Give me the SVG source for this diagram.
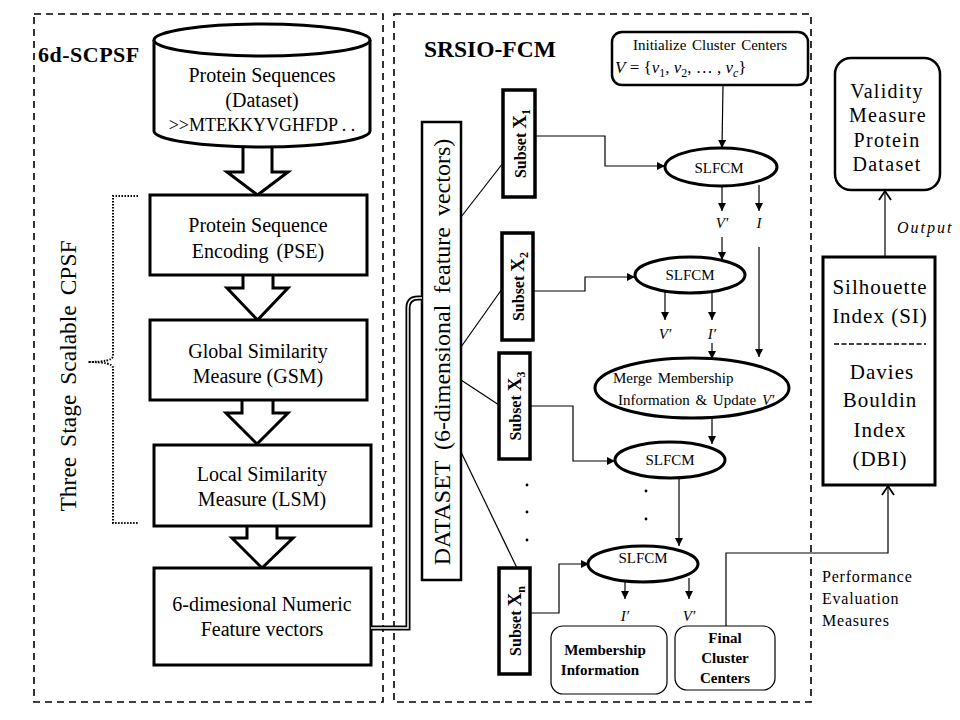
<svg xmlns="http://www.w3.org/2000/svg" width="960" height="720" viewBox="0 0 960 720" font-family="'Liberation Serif', 'Times New Roman', serif">
<defs>
<style>
text{font-family:'Liberation Serif','Times New Roman',serif;fill:#000}
.t20{font-size:20px;text-anchor:middle}
.t18{font-size:18px;text-anchor:middle}
.b{font-weight:bold}
.it{font-style:italic}
.box{fill:#fff;stroke:#000;stroke-width:3}
.thin{fill:#fff;stroke:#000;stroke-width:1.2}
.ell{fill:#fff;stroke:#000;stroke-width:3}
.dash{fill:none;stroke:#000;stroke-width:1.6;stroke-dasharray:7 5}
.ln{fill:none;stroke:#000;stroke-width:1.2}
.arr{marker-end:url(#ah)}
.oarr{marker-end:url(#oh)}
.bigarr{fill:#fff;stroke:#000;stroke-width:3;stroke-linejoin:miter}
</style>
<marker id="ah" markerUnits="userSpaceOnUse" markerWidth="9" markerHeight="9" refX="8" refY="4" orient="auto">
<path d="M0,0 L8,4 L0,8 z" fill="#000"/>
</marker>
<marker id="oh" markerUnits="userSpaceOnUse" markerWidth="12" markerHeight="14" refX="10" refY="7" orient="auto">
<path d="M1,1 L10,7 L1,13" fill="none" stroke="#000" stroke-width="1.8"/>
</marker>
</defs>
<rect width="960" height="720" fill="#fff"/>

<g id="frames">
<rect class="dash" x="34" y="14" width="349" height="688"/>
<rect class="dash" x="394" y="14" width="417" height="688"/>
<text x="38" y="62" class="b" font-size="22" letter-spacing="0.5">6d-SCPSF</text>
<text x="424" y="57" class="b" font-size="23.5">SRSIO-FCM</text>
</g>

<g id="block-arrows">
<path class="bigarr" d="M243,140 V172 H227 L257.5,195 L288,172 H272 V140"/>
<path class="bigarr" d="M243,275 V288 H227 L257.5,320 L288,288 H273 V275"/>
<path class="bigarr" d="M242,400 V413 H226 L257,444 L288,413 H273 V400"/>
<path class="bigarr" d="M247,526 V538 H232 L262,568 L293,538 H277 V526"/>
</g>

<g id="n-dataset-cyl">
<path d="M154,40 V131 A108,16 0 0 0 370,131 V40" fill="#fff" stroke="#000" stroke-width="3"/>
<ellipse cx="262" cy="40" rx="108" ry="16" fill="#fff" stroke="#000" stroke-width="3"/>
<text class="t20" x="262" y="82">Protein Sequences</text>
<text class="t20" x="262" y="107">(Dataset)</text>
<text class="t18" x="262" y="131">&gt;&gt;MTEKKYVGHFDP . .</text>
</g>

<g id="n-pse">
<rect class="box" x="150" y="195" width="217" height="80"/>
<text class="t20" x="258" y="232">Protein Sequence</text>
<text class="t20" x="258" y="258" word-spacing="3">Encoding (PSE)</text>
</g>
<g id="n-gsm">
<rect class="box" x="150" y="320" width="217" height="80"/>
<text class="t20" x="258" y="358">Global Similarity</text>
<text class="t20" x="258" y="383">Measure (GSM)</text>
</g>
<g id="n-lsm">
<rect class="box" x="154" y="445" width="217" height="81"/>
<text class="t20" x="262" y="481">Local Similarity</text>
<text class="t20" x="262" y="506">Measure (LSM)</text>
</g>
<g id="n-feat">
<rect class="box" x="154" y="568" width="217" height="97"/>
<text class="t20" x="262" y="611">6-dimesional Numeric</text>
<text class="t20" x="262" y="636">Feature vectors</text>
</g>

<g id="n-brace">
<path d="M138,196 H113 V356 Q113,362 88,362 Q113,362 113,368 V523 H138" fill="none" stroke="#000" stroke-width="2" stroke-dasharray="1.5 1.5"/>
<text transform="translate(68,376) rotate(-90)" text-anchor="middle" dy="0.35em" font-size="23.5" word-spacing="4">Three Stage Scalable CPSF</text>
</g>

<g id="n-datasetbar">
<rect x="422" y="122" width="39" height="458" fill="#fff" stroke="#000" stroke-width="2.5"/>
<text transform="translate(442,352) rotate(-90)" text-anchor="middle" dy="0.35em" font-size="24" word-spacing="5">DATASET (6-dimensional feature vectors)</text>
</g>

<g id="n-subsets">
<rect x="503" y="90" width="32" height="107" fill="#fff" stroke="#000" stroke-width="3.5"/>
<text transform="translate(520,143.5) rotate(-90)" text-anchor="middle" dy="0.35em" class="b" font-size="16">Subset <tspan font-size="19">X</tspan><tspan font-size="12" dy="4">1</tspan></text>
<rect x="502" y="233" width="31" height="107" fill="#fff" stroke="#000" stroke-width="3.5"/>
<text transform="translate(518,286.5) rotate(-90)" text-anchor="middle" dy="0.35em" class="b" font-size="16">Subset <tspan font-size="19">X</tspan><tspan font-size="12" dy="4">2</tspan></text>
<rect x="499" y="353" width="31" height="106" fill="#fff" stroke="#000" stroke-width="3.5"/>
<text transform="translate(515,406) rotate(-90)" text-anchor="middle" dy="0.35em" class="b" font-size="16">Subset <tspan font-size="19">X</tspan><tspan font-size="12" dy="4">3</tspan></text>
<rect x="499" y="568" width="31" height="106" fill="#fff" stroke="#000" stroke-width="3.5"/>
<text transform="translate(515,621) rotate(-90)" text-anchor="middle" dy="0.35em" class="b" font-size="16">Subset <tspan font-size="19">X</tspan><tspan font-size="12" dy="4">n</tspan></text>
<circle cx="527" cy="485" r="1.4"/>
<circle cx="527" cy="512" r="1.4"/>
<circle cx="527" cy="540" r="1.4"/>
</g>

<g id="n-init">
<rect x="612" y="32" width="196" height="53" rx="10" fill="#fff" stroke="#000" stroke-width="2.5"/>
<text x="710" y="50" text-anchor="middle" font-size="15" word-spacing="2">Initialize Cluster Centers</text>
<text x="615" y="73" font-size="17"><tspan class="it">V</tspan> = {<tspan class="it">v</tspan><tspan font-size="12" dy="4">1</tspan><tspan dy="-4">, </tspan><tspan class="it">v</tspan><tspan font-size="12" dy="4">2</tspan><tspan dy="-4">, … , </tspan><tspan class="it">v</tspan><tspan font-size="12" dy="4" class="it">c</tspan><tspan dy="-4">}</tspan></text>
</g>

<g id="n-slfcm1">
<ellipse class="ell" cx="721" cy="167" rx="56" ry="19"/>
<text x="719" y="173" text-anchor="middle" font-size="15">SLFCM</text>
</g>
<g id="n-slfcm2">
<ellipse class="ell" cx="690" cy="275" rx="55" ry="18"/>
<text x="690" y="280" text-anchor="middle" font-size="15">SLFCM</text>
</g>
<g id="n-merge">
<ellipse class="ell" cx="692" cy="388" rx="97" ry="30"/>
<text x="613" y="383" font-size="15" word-spacing="2">Merge Membership</text>
<text x="618" y="405" font-size="15" word-spacing="2">Information &amp; Update <tspan class="it">V′</tspan></text>
</g>
<g id="n-slfcm3">
<ellipse class="ell" cx="670" cy="460" rx="55" ry="18"/>
<text x="670" y="465" text-anchor="middle" font-size="15">SLFCM</text>
</g>
<g id="n-slfcm4">
<ellipse class="ell" cx="643" cy="564" rx="55" ry="18"/>
<text x="643" y="563" text-anchor="middle" font-size="15">SLFCM</text>
<circle cx="646" cy="491" r="1.4"/>
<circle cx="646" cy="519" r="1.4"/>
</g>

<g id="n-membership">
<rect class="thin" x="551" y="626" width="116" height="68" rx="12"/>
<text x="605" y="655" text-anchor="middle" class="b" font-size="15">Membership</text>
<text x="600" y="675" text-anchor="middle" class="b" font-size="15">Information</text>
</g>
<g id="n-final">
<rect class="thin" x="675" y="626" width="100" height="64" rx="12"/>
<text x="725" y="643" text-anchor="middle" class="b" font-size="15">Final</text>
<text x="725" y="663" text-anchor="middle" class="b" font-size="15">Cluster</text>
<text x="725" y="683" text-anchor="middle" class="b" font-size="15">Centers</text>
</g>

<g id="n-validity">
<rect x="835" y="58" width="105" height="132" rx="16" fill="#fff" stroke="#000" stroke-width="2.5"/>
<text x="887" y="98" text-anchor="middle" font-size="20" letter-spacing="1.3">Validity</text>
<text x="888" y="122" text-anchor="middle" font-size="20" letter-spacing="1.3">Measure</text>
<text x="887" y="147" text-anchor="middle" font-size="20" letter-spacing="1.3">Protein</text>
<text x="887" y="171" text-anchor="middle" font-size="20" letter-spacing="1.3">Dataset</text>
</g>
<g id="n-si">
<rect class="box" x="823" y="257" width="112" height="228"/>
<text x="880" y="294" text-anchor="middle" font-size="21" letter-spacing="1">Silhouette</text>
<text x="880" y="323" text-anchor="middle" font-size="21" letter-spacing="1">Index (SI)</text>
<line x1="834" y1="344" x2="926" y2="344" stroke="#000" stroke-width="1.5" stroke-dasharray="5 2.5"/>
<text x="882" y="379" text-anchor="middle" font-size="21" letter-spacing="1">Davies</text>
<text x="880" y="407" text-anchor="middle" font-size="21" letter-spacing="1">Bouldin</text>
<text x="880" y="437" text-anchor="middle" font-size="21" letter-spacing="1">Index</text>
<text x="880" y="466" text-anchor="middle" font-size="21" letter-spacing="1">(DBI)</text>
</g>

<g id="connectors">
<path d="M371,628 H408 V308 Q408,298 418,298 H422" fill="none" stroke="#000" stroke-width="5"/>
<path d="M371,628 H408 V308 Q408,298 418,298 H422" fill="none" stroke="#fff" stroke-width="1.5"/>
<path class="ln" d="M461,217 L503,163"/>
<path class="ln" d="M461,347 L502,289"/>
<path class="ln" d="M461,380 L499,405"/>
<path class="ln" d="M461,452 L517,568"/>
<path class="ln arr" d="M723,85 L722,148"/>
<path class="ln arr" d="M535,136 H605 V166 H665"/>
<path class="ln arr" d="M722,186 V211"/>
<path class="ln arr" d="M759,185 V211"/>
<path class="ln arr" d="M722,237 V260"/>
<path class="ln arr" d="M759,247 V357"/>
<path class="ln arr" d="M533,291 H585 V277 H635"/>
<path class="ln arr" d="M665,292 V320"/>
<path class="ln arr" d="M712,292 V320"/>
<path class="ln arr" d="M712,343 V359"/>
<path class="ln arr" d="M712,417 V444"/>
<path class="ln arr" d="M530,406 H573 V461 H615"/>
<path class="ln arr" d="M679,477 V546"/>
<path class="ln arr" d="M530,613 H559 V564 H589"/>
<path class="ln arr" d="M625,582 V599"/>
<path class="ln arr" d="M689,578 V599"/>
<path class="ln oarr" d="M726,626 V553 H888 V486" stroke-width="1.8"/>
<path class="ln oarr" d="M885,257 V191" stroke-width="1.8"/>
<text x="722" y="228" text-anchor="middle" class="it" font-size="15">V′</text>
<text x="759" y="228" text-anchor="middle" class="it" font-size="15">I</text>
<text x="665" y="339" text-anchor="middle" class="it" font-size="15">V′</text>
<text x="712" y="339" text-anchor="middle" class="it" font-size="15">I′</text>
<text x="625" y="621" text-anchor="middle" class="it" font-size="15">I′</text>
<text x="689" y="621" text-anchor="middle" class="it" font-size="15">V′</text>
<text x="897" y="233" class="it" font-size="16" letter-spacing="2">Output</text>
<text x="822" y="582" font-size="16" letter-spacing="0.8">Performance</text>
<text x="822" y="604" font-size="16" letter-spacing="0.8">Evaluation</text>
<text x="822" y="626" font-size="16" letter-spacing="0.8">Measures</text>
</g>
</svg>
